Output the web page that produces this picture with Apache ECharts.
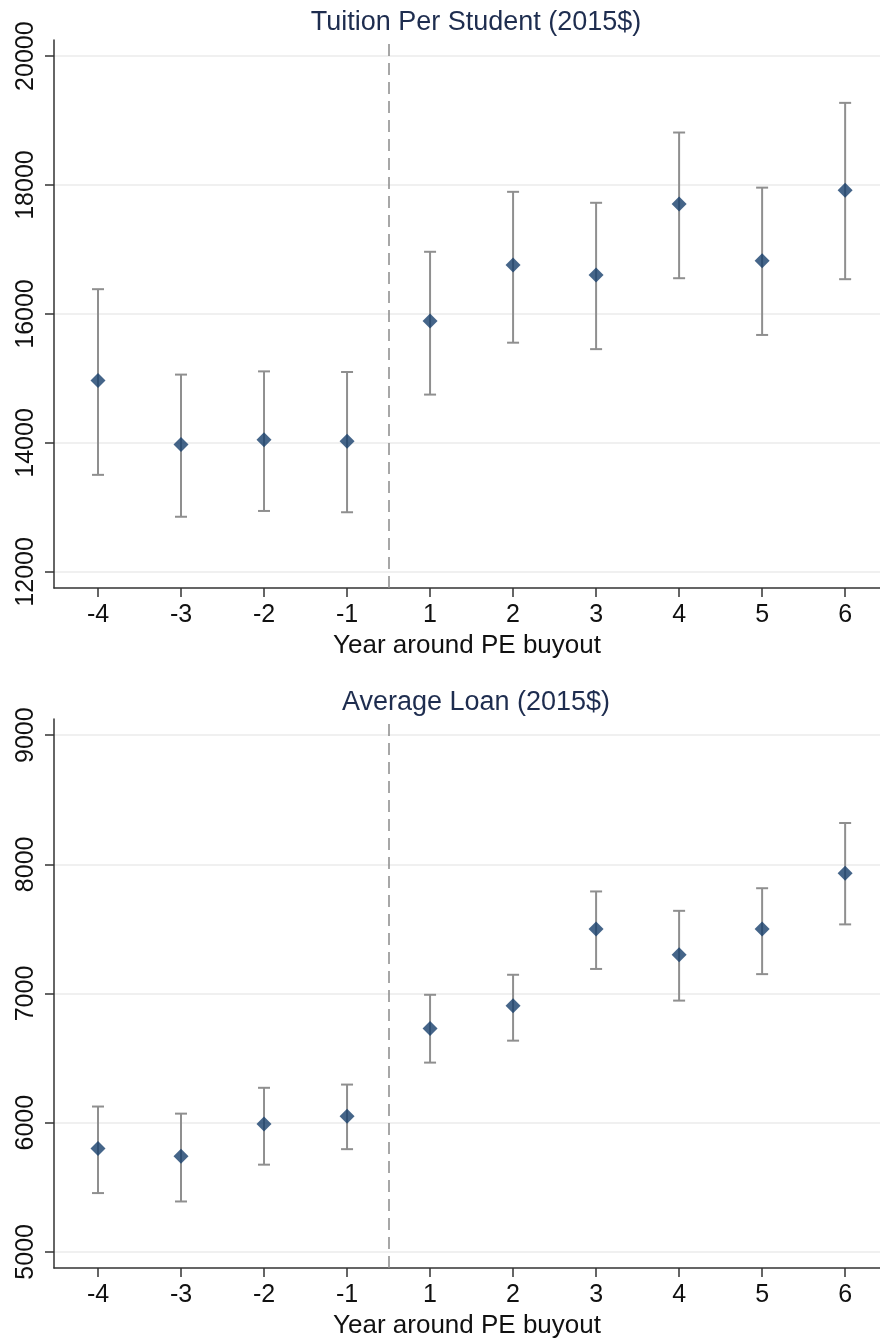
<!DOCTYPE html>
<html>
<head>
<meta charset="utf-8">
<script src="https://cdn.jsdelivr.net/npm/echarts@6/dist/echarts.min.js"></script>
<style>html,body{margin:0;padding:0;background:#fff}#c{width:880px;height:1340px}</style>
</head>
<body>
<div id="c"></div>
<script>
const years = ['-4','-3','-2','-1','1','2','3','4','5','6'];
const tuitionMean = [14970, 13975, 14050, 14025, 15890, 16760, 16605, 17705, 16825, 17920];
const tuitionLow  = [13505, 12855, 12945, 12925, 14750, 15555, 15455, 16555, 15675, 16540];
const tuitionHigh = [16385, 15060, 15110, 15100, 16965, 17895, 17725, 18815, 17960, 19275];
const loanMean = [5800, 5740, 5990, 6050, 6730, 6905, 7500, 7300, 7500, 7930];
const loanLow  = [5455, 5390, 5675, 5795, 6465, 6635, 7190, 6945, 7150, 7535];
const loanHigh = [6125, 6070, 6270, 6295, 6990, 7145, 7790, 7640, 7815, 8320];
const tuitionTicks = [12000, 14000, 16000, 18000, 20000];
const loanTicks = [5000, 6000, 7000, 8000, 9000];
const titles = ['Tuition Per Student (2015$)', 'Average Loan (2015$)'];
const xName = 'Year around PE buyout';
const buyoutBreak = 3.5; // between "-1" and "1"

const FONT = '"Liberation Sans", Arial, Helvetica, sans-serif';
const idx = years.map((_, i) => i);

function xAxisCfg(gi) {
  return {
    type: 'value', gridIndex: gi, min: -0.53, max: 9.42,
    name: xName, nameLocation: 'middle', nameGap: 45,
    nameTextStyle: { fontSize: 26, color: '#111', fontFamily: FONT },
    axisLine: { onZero: false, lineStyle: { color: '#333', width: 1.5 } },
    axisTick: { customValues: idx, length: 9, lineStyle: { color: '#333', width: 1.5 } },
    axisLabel: { customValues: idx, formatter: v => years[Math.round(v)], fontSize: 25, color: '#111', fontFamily: FONT, margin: 15 },
    splitLine: { show: false }
  };
}
function yAxisCfg(gi, ticks, mn, mx) {
  return {
    type: 'value', gridIndex: gi, min: mn, max: mx,
    axisLine: { show: true, onZero: false, lineStyle: { color: '#333', width: 1.5 } },
    axisTick: { show: true, customValues: ticks, length: 9, lineStyle: { color: '#333', width: 1.5 } },
    axisLabel: { customValues: ticks, formatter: v => String(v), rotate: 90, fontSize: 25, color: '#111', fontFamily: FONT, margin: 15 },
    splitLine: { show: true, lineStyle: { color: '#ebebeb', width: 1.5 } }
  };
}
function errSeries(gi, low, high) {
  return {
    type: 'custom', xAxisIndex: gi, yAxisIndex: gi,
    data: idx.map(i => [i, low[i], high[i]]),
    renderItem: function (params, api) {
      const x = api.value(0);
      const lo = api.coord([x, api.value(1)]);
      const hi = api.coord([x, api.value(2)]);
      const hw = 6;
      const st = { stroke: '#8f8f8f', lineWidth: 2 };
      return { type: 'group', children: [
        { type: 'line', shape: { x1: lo[0], y1: lo[1], x2: hi[0], y2: hi[1] }, style: st },
        { type: 'line', shape: { x1: lo[0]-hw, y1: lo[1], x2: lo[0]+hw, y2: lo[1] }, style: st },
        { type: 'line', shape: { x1: hi[0]-hw, y1: hi[1], x2: hi[0]+hw, y2: hi[1] }, style: st }
      ]};
    },
    z: 2, silent: true
  };
}
function ptSeries(gi, mean) {
  return {
    type: 'scatter', xAxisIndex: gi, yAxisIndex: gi,
    data: idx.map(i => [i, mean[i]]),
    symbol: 'diamond', symbolSize: 15,
    itemStyle: { color: '#173f6b' }, z: 3, silent: true,
    markLine: {
      silent: true, symbol: ['none', 'none'], label: { show: false },
      lineStyle: { color: '#8a8a8a', type: [12, 7], width: 1.5 },
      data: [{ xAxis: buyoutBreak }]
    }
  };
}

const chart = echarts.init(document.getElementById('c'), null, { renderer: 'canvas' });
chart.setOption({
  backgroundColor: '#fff',
  animation: false,
  title: [
    { text: titles[0], left: 471, top: 4, textAlign: 'center', textStyle: { fontSize: 27, fontWeight: 'normal', color: '#1e2d4f', fontFamily: FONT } },
    { text: titles[1], left: 471, top: 684, textAlign: 'center', textStyle: { fontSize: 27, fontWeight: 'normal', color: '#1e2d4f', fontFamily: FONT } }
  ],
  grid: [
    { left: 54, right: 0, top: 40, height: 548 },
    { left: 54, right: 0, top: 719, height: 549 }
  ],
  xAxis: [xAxisCfg(0), xAxisCfg(1)],
  yAxis: [yAxisCfg(0, tuitionTicks, 11750, 20250), yAxisCfg(1, loanTicks, 4875, 9125)],
  series: [
    errSeries(0, tuitionLow, tuitionHigh), ptSeries(0, tuitionMean),
    errSeries(1, loanLow, loanHigh), ptSeries(1, loanMean)
  ]
});
</script>
</body>
</html>
